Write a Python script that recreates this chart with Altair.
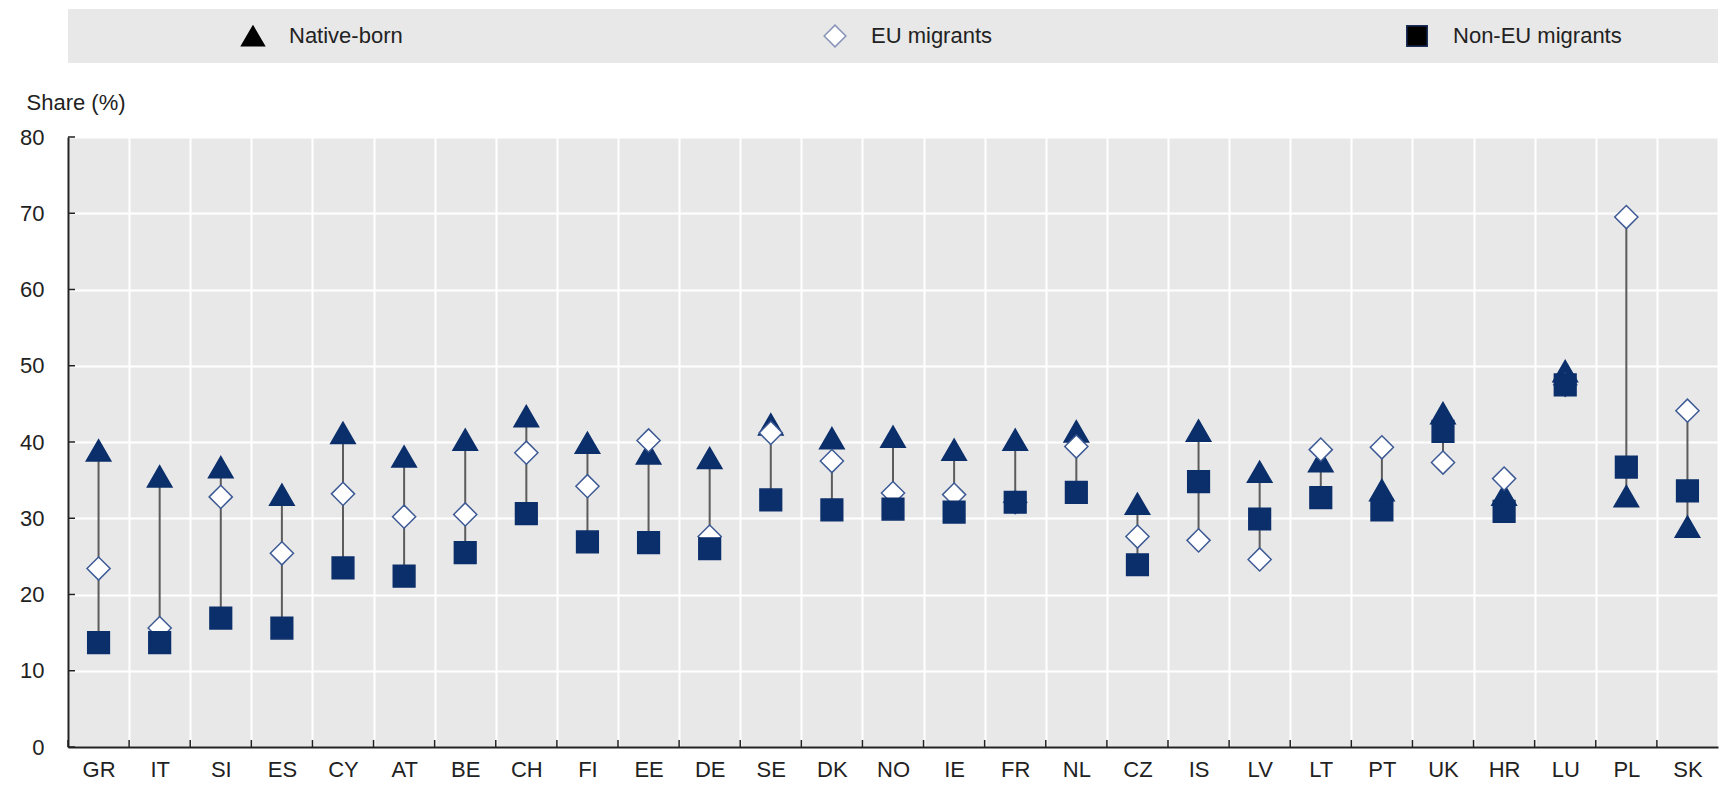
import altair as alt
import pandas as pd

# ---------------- data ----------------
countries = ["GR", "IT", "SI", "ES", "CY", "AT", "BE", "CH", "FI", "EE", "DE", "SE", "DK", "NO",
             "IE", "FR", "NL", "CZ", "IS", "LV", "LT", "PT", "UK", "HR", "LU", "PL", "SK"]
native_born = [38.9, 35.5, 36.7, 33.1, 41.2, 38.1, 40.3, 43.4, 39.9, 38.5, 37.9, 42.3, 40.5, 40.7,
               39.0, 40.3, 41.4, 31.9, 41.5, 36.1, 37.5, 33.7, 43.8, 33.1, 49.3, 32.9, 28.9]
eu_migrants = [23.4, 15.6, 32.8, 25.4, 33.2, 30.2, 30.5, 38.6, 34.2, 40.2, 27.6, 41.2, 37.5, 33.3,
               33.1, 32.1, 39.4, 27.6, 27.1, 24.6, 39.0, 39.3, 37.3, 35.2, 47.5, 69.5, 44.1]
non_eu_migrants = [13.7, 13.7, 16.9, 15.6, 23.5, 22.4, 25.5, 30.6, 26.9, 26.8, 26.0, 32.4, 31.1, 31.2,
                   30.8, 32.1, 33.4, 23.9, 34.8, 29.9, 32.7, 31.1, 41.4, 30.9, 47.5, 36.7, 33.6]
series_names = ["Native-born", "EU migrants", "Non-EU migrants"]
y_ticks = [0, 10, 20, 30, 40, 50, 60, 70, 80]

# ---------------- styling ----------------
W = 1650
H = 610
NAVY = "#0b2f6b"
TEXT = "#222222"
BG = "#e8e8e8"

rows = []
for name, vals in zip(series_names, [native_born, eu_migrants, non_eu_migrants]):
    for c, v in zip(countries, vals):
        rows.append({"country": c, "series": name, "value": v})
long_df = pd.DataFrame(rows)

range_df = pd.DataFrame({
    "country": countries,
    "lo": [min(t) for t in zip(native_born, eu_migrants, non_eu_migrants)],
    "hi": [max(t) for t in zip(native_born, eu_migrants, non_eu_migrants)],
})
tick_df = pd.DataFrame({"tick": y_ticks})
country_df = pd.DataFrame({"country": countries})
legend_df = pd.DataFrame({"series": series_names})


def make_x(**kw):
    return alt.X(
        "country:N", sort=countries,
        scale=alt.Scale(type="band", paddingInner=0, paddingOuter=0),
        axis=alt.Axis(title=None, labelAngle=0, ticks=False, grid=True, tickBand="extent",
                      gridColor="white", gridWidth=2, domainColor=TEXT, domainWidth=2,
                      labelFontSize=22, labelColor=TEXT, labelPadding=12),
        **kw)


y_axis = alt.Axis(values=y_ticks, title="Share (%)", titleAngle=0, titleX=-42, titleY=-35,
                  titleAlign="left", titleBaseline="middle", titleFontSize=22,
                  titleFontWeight="normal", titleColor=TEXT, ticks=False, labelPadding=24,
                  labelFontSize=22, labelColor=TEXT, grid=True, gridColor="white", gridWidth=2,
                  domainColor=TEXT, domainWidth=2)
y_scale = alt.Scale(domain=[0, 80], nice=False, zero=True)

rules = alt.Chart(range_df).mark_rule(color="#5c5c5c", strokeWidth=2).encode(
    x=make_x(),
    y=alt.Y("lo:Q", scale=y_scale, axis=y_axis),
    y2="hi:Q",
)

ytick_rules = alt.Chart(tick_df).mark_rule(color=TEXT, strokeWidth=1.5).encode(
    y=alt.Y("tick:Q", scale=y_scale, axis=y_axis),
    x=alt.value(0),
    x2=alt.value(7),
)

xtick_rules = alt.Chart(country_df).mark_rule(color=TEXT, strokeWidth=1.5).encode(
    x=make_x(bandPosition=0),
    y=alt.value(H),
    y2=alt.value(H - 7),
)

points = alt.Chart(long_df).mark_point(filled=True, opacity=1, strokeWidth=1.5).encode(
    x=make_x(),
    y=alt.Y("value:Q", scale=y_scale, axis=y_axis),
    shape=alt.Shape("series:N", scale=alt.Scale(domain=series_names,
                                                range=["triangle-up", "diamond", "square"]),
                    legend=None),
    fill=alt.Fill("series:N", scale=alt.Scale(domain=series_names,
                                              range=[NAVY, "white", NAVY]), legend=None),
    stroke=alt.Stroke("series:N", scale=alt.Scale(domain=series_names,
                                                  range=[NAVY, "#3d5a94", NAVY]), legend=None),
    size=alt.Size("series:N", scale=alt.Scale(domain=series_names, range=[600, 470, 560]),
                  legend=None),
)

main = alt.layer(rules, ytick_rules, xtick_rules, points).properties(
    width=W, height=H, view=alt.ViewBackground(fill=BG, stroke="transparent", strokeWidth=0))

# ---------------- legend panel ----------------
lx = alt.X("series:N", sort=series_names,
           scale=alt.Scale(type="band", paddingInner=0.165, paddingOuter=0), axis=None)

leg_sym = alt.Chart(legend_df).mark_point(filled=True, opacity=1, strokeWidth=1.5,
                                          xOffset=-58).encode(
    x=lx,
    shape=alt.Shape("series:N", scale=alt.Scale(domain=series_names,
                                                range=["triangle-up", "diamond", "square"]),
                    legend=None),
    fill=alt.Fill("series:N", scale=alt.Scale(domain=series_names,
                                              range=["#000000", "white", "#000000"]), legend=None),
    stroke=alt.Stroke("series:N", scale=alt.Scale(domain=series_names,
                                                  range=["#000000", "#8794b8", "#1b2f5a"]),
                      legend=None),
    size=alt.Size("series:N", scale=alt.Scale(domain=series_names, range=[520, 420, 460]),
                  legend=None),
)
leg_txt = alt.Chart(legend_df).mark_text(align="left", baseline="middle", fontSize=22,
                                         color=TEXT, xOffset=-22).encode(
    x=lx,
    text="series:N",
)
legend_panel = alt.layer(leg_sym, leg_txt).properties(
    width=W, height=54, view=alt.ViewBackground(fill=BG, stroke="transparent", strokeWidth=0))

chart = alt.vconcat(legend_panel, main, spacing=74, bounds="flush").resolve_scale(
    x="independent", y="independent", shape="independent", fill="independent",
    stroke="independent", size="independent",
).properties(
    padding={"left": 11, "top": 1, "right": 2, "bottom": 0},
).configure(
    font="Liberation Sans",
).configure_view(
    fill=BG, strokeWidth=0,
)

chart.save("out.html", embed_options={"renderer": "svg", "actions": False})
